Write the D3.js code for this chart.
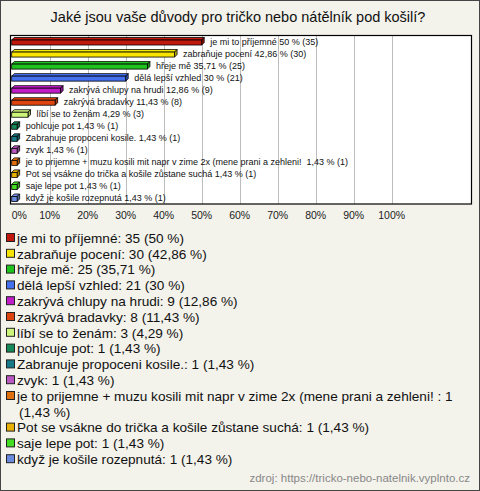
<!DOCTYPE html>
<html><head><meta charset="utf-8">
<script src="https://cdn.jsdelivr.net/npm/d3@7"></script>
<style>
html,body{margin:0;padding:0;background:#fff;}
svg{display:block;font-family:"Liberation Sans",Arial,sans-serif;}
</style></head>
<body><svg id="c" width="480" height="491"></svg>
<script>
const title = "Jaké jsou vaše důvody pro tričko nebo nátělník pod košilí?";
const categories = [
  "je mi to příjemné",
  "zabraňuje pocení",
  "hřeje mě",
  "dělá lepší vzhled",
  "zakrývá chlupy na hrudi",
  "zakrývá bradavky",
  "líbí se to ženám",
  "pohlcuje pot",
  "Zabranuje propoceni kosile.",
  "zvyk",
  "je to prijemne + muzu kosili mit napr v zime 2x (mene prani a zehleni! ",
  "Pot se vsákne do trička a košile zůstane suchá",
  "saje lepe pot",
  "když je košile rozepnutá"
];
const counts = [35, 30, 25, 21, 9, 8, 3, 1, 1, 1, 1, 1, 1, 1];
const percents = [50, 42.86, 35.71, 30, 12.86, 11.43, 4.29, 1.43, 1.43, 1.43, 1.43, 1.43, 1.43, 1.43];
const colors = ["#c0180c", "#f8e400", "#1ec31e", "#4470ee", "#c01cc8", "#e0440e", "#ccf57a",
                "#158a58", "#187a88", "#b858c0", "#e0700e", "#e8b000", "#44dd22", "#6a8ae0"];
const tickValues = [0, 10, 20, 30, 40, 50, 60, 70, 80, 90, 100];
const source = "zdroj: https://tricko-nebo-natelnik.vyplnto.cz";

const fmt = v => String(v).replace(".", ",");
const svg = d3.select("#c");
const W = 480, H = 491;

svg.append("rect").attr("x", 0.5).attr("y", 0.5).attr("width", W - 1).attr("height", H - 1)
  .attr("fill", "#f3f2eb").attr("stroke", "#444");

svg.append("text").attr("x", 238).attr("y", 22).attr("text-anchor", "middle")
  .attr("font-size", 14.5).attr("fill", "#111").text(title);

const plot = {left: 10.5, top: 35.5, right: 471.5, bottom: 204};
const x = d3.scaleLinear().domain([0, 100]).range([11.7, 391.7]);
const y = d3.scaleBand().domain(d3.range(categories.length)).range([plot.top, plot.bottom]);

svg.append("rect").attr("x", plot.left).attr("y", plot.top)
  .attr("width", plot.right - plot.left).attr("height", plot.bottom - plot.top)
  .attr("fill", "#fff");

svg.append("g").selectAll("line").data(tickValues.slice(1)).join("line")
  .attr("x1", d => Math.round(x(d)) + 0.5).attr("x2", d => Math.round(x(d)) + 0.5)
  .attr("y1", plot.top).attr("y2", plot.bottom)
  .attr("stroke", "#bdbdbd").attr("stroke-width", 1);

const dx = 2.5, dy = 2.5, bh = 5;
const bars = svg.append("g").selectAll("g").data(percents).join("g");
bars.each(function (p, i) {
  const g = d3.select(this);
  const c = y(i) + y.bandwidth() / 2;
  const x0 = x(0), x1 = x(p);
  const top = c - 1.5, bot = top + bh;
  const col = d3.color(colors[i]);
  g.append("path").attr("d", `M${x0},${top}L${x0 + dx},${top - dy}L${x1 + dx},${top - dy}L${x1},${top}Z`)
    .attr("fill", col.brighter(0.2)).attr("stroke", "#000").attr("stroke-width", 0.8);
  g.append("path").attr("d", `M${x1},${top}L${x1 + dx},${top - dy}L${x1 + dx},${bot - dy}L${x1},${bot}Z`)
    .attr("fill", col.darker(0.8)).attr("stroke", "#000").attr("stroke-width", 0.8);
  g.append("rect").attr("x", x0).attr("y", top).attr("width", x1 - x0).attr("height", bh)
    .attr("fill", colors[i]).attr("stroke", "#000").attr("stroke-width", 0.8);
  g.append("text").attr("x", x1 + 8.5).attr("y", c + 3.2)
    .attr("font-size", 9).attr("fill", "#111").style("white-space", "pre")
    .text(`${categories[i]} ${fmt(percents[i])} % (${counts[i]})`);
});

svg.append("rect").attr("x", plot.left).attr("y", plot.top)
  .attr("width", plot.right - plot.left).attr("height", plot.bottom - plot.top)
  .attr("fill", "none").attr("stroke", "#000").attr("stroke-width", 1.2);

svg.append("g").selectAll("text").data(tickValues).join("text")
  .attr("x", d => x(d))
  .attr("text-anchor", d => d === 0 ? "start" : "middle")
  .attr("y", 219).attr("font-size", 10.5).attr("fill", "#222")
  .text(d => d + "%");

// legend
const lx = 17, ls = 15.8;
let ly = 238;
const maxW = 446;
categories.forEach((cat, i) => {
  svg.append("rect").attr("x", 6.5).attr("y", ly - 4.5).attr("width", 8).attr("height", 8)
    .attr("fill", colors[i]).attr("stroke", "#222").attr("stroke-width", 1);
  const label = `${cat.trim()}${cat.endsWith(" ") ? " " : ""}: ${counts[i]} (${fmt(percents[i])} %)`;
  const t = svg.append("text").attr("x", lx).attr("y", ly + 4.8).attr("font-size", 13.6).attr("fill", "#111");
  const words = label.split(" ");
  let line = [];
  let ts = t.append("tspan").attr("x", lx);
  words.forEach(w => {
    line.push(w);
    ts.text(line.join(" "));
    if (ts.node().getComputedTextLength() > maxW && line.length > 1) {
      line.pop();
      ts.text(line.join(" "));
      line = [w];
      ly += ls;
      ts = t.append("tspan").attr("x", lx + 2).attr("dy", ls).text(w);
    }
  });
  ly += ls;
});

svg.append("text").attr("x", 470).attr("y", 482).attr("text-anchor", "end")
  .attr("font-size", 11.5).attr("fill", "#888").text(source);
</script>
</body></html>
